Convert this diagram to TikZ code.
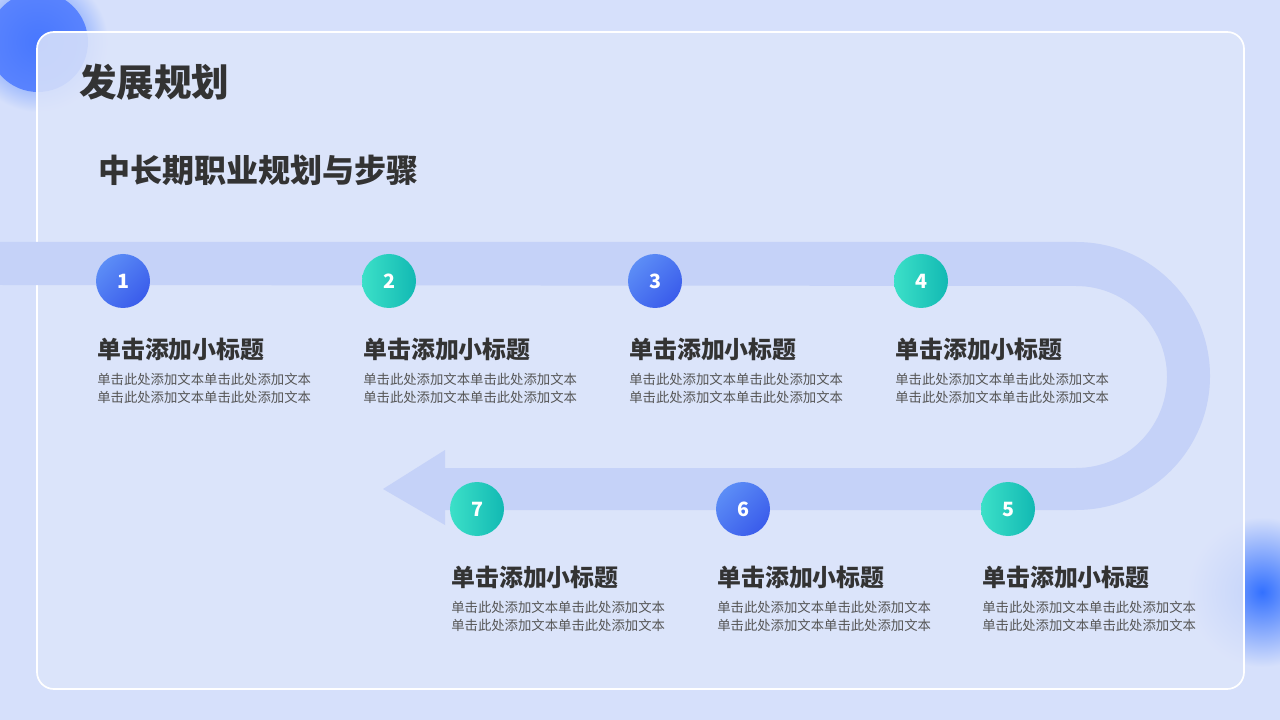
\documentclass[tikz,border=0pt]{standalone}
\usepackage{fontspec}
\setmainfont{Noto Sans CJK SC}
\usetikzlibrary{positioning}
\definecolor{bgblue}{HTML}{D6E0FB}
\definecolor{panelblue}{HTML}{DDE5FA}
\definecolor{bandblue}{HTML}{C5D2F8}
\definecolor{darkblue}{HTML}{3A5CEB}
\definecolor{lightblue}{HTML}{5C8DF6}
\definecolor{darkteal}{HTML}{12B9B3}
\definecolor{lightteal}{HTML}{3CE0C8}
\definecolor{titlegray}{HTML}{333333}
\definecolor{textgray}{HTML}{555555}
\tikzset{
  bluedot/.style={circle, minimum size=54*0.025cm, inner sep=0pt, text=white, font=\bfseries\fontsize{14}{14}\selectfont, shading=axis, left color=lightblue, right color=darkblue, shading angle=45},
  tealdot/.style={bluedot, left color=lightteal, right color=darkteal},
  headtext/.style={anchor=west, inner sep=0pt, text=titlegray, font=\bfseries\fontsize{17}{17}\selectfont},
  bodytext/.style={anchor=north west, inner sep=0pt, text=textgray, align=left, font=\fontsize{9.5}{12.8}\selectfont}
}
\begin{document}
\begin{tikzpicture}[x=0.025cm, y=-0.025cm]
  % background and panel
  \fill[bgblue] (0,0) rectangle (1280,720);
  \useasboundingbox (0,0) rectangle (1280,720);
  \shade[inner color=blue!70!cyan!80, outer color=bgblue] (38,42) circle (70);
  \fill[blue!75!cyan!70, opacity=0.85] (38,42) circle (50);
  \shade[inner color=blue!70!cyan!80, outer color=bgblue] (1262,592) circle (75);
  \draw[white, line width=1.2pt, fill=panelblue, fill opacity=0.85, rounded corners=12] (37,32) rectangle (1244,689);

  \node[anchor=west, inner sep=0pt, text=titlegray, font=\bfseries\fontsize{26.7}{27}\selectfont] (title) at (79,82) {发展规划};
  \node[anchor=west, inner sep=0pt, text=titlegray, font=\bfseries\fontsize{22.8}{23}\selectfont] (subtitle) at (98,170) {中长期职业规划与步骤};

  % road band with arrow
  \fill[bandblue] (0,242) -- (1076,242) arc[start angle=-90, end angle=90, radius=134]
    -- (445,510) -- (445,525) -- (383,489) -- (445,450) -- (445,468) -- (1076,468)
    arc[start angle=90, end angle=-90, radius=91] -- (0,285) -- cycle;

  % steps
  \foreach \n/\x/\y/\sty in {1/123/281/bluedot, 2/389/281/tealdot, 3/655/281/bluedot, 4/921/281/tealdot,
                             5/1008/509/tealdot, 6/743/509/bluedot, 7/477/509/tealdot} {
    \node[\sty] (dot\n) at (\x,\y) {\n};
    \node[headtext] (head\n) at (\x-26,\y+68) {单击添加小标题};
    \node[bodytext] (body\n) at (\x-26,\y+92) {单击此处添加文本单击此处添加文本\\单击此处添加文本单击此处添加文本};
  }
\end{tikzpicture}
\end{document}
